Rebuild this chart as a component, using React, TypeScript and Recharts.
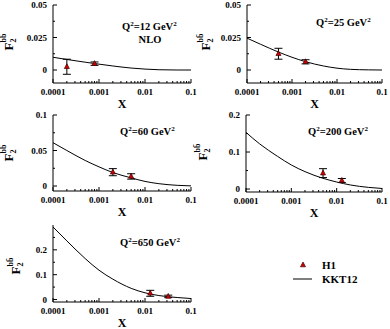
import React from 'react';
import { ComposedChart, Line, Scatter, XAxis, YAxis, ErrorBar } from 'recharts';

const xGrid = [0.0001, 0.0002, 0.0005, 0.001, 0.002, 0.005, 0.01, 0.02, 0.05, 0.1];

// KKT12 NLO curves, one per Q^2
const kktQ12 = [0.0098, 0.0081, 0.006, 0.0045, 0.0031, 0.0015, 0.0007, 0.0002, 0, 0];
const kktQ25 = [0.0245, 0.0198, 0.0138, 0.0098, 0.0064, 0.0031, 0.0014, 0.0005, 0.0001, 0];
const kktQ60 = [0.061, 0.05, 0.036, 0.027, 0.019, 0.0115, 0.0065, 0.0033, 0.001, 0.0002];
const kktQ200 = [0.153, 0.122, 0.088, 0.065, 0.047, 0.029, 0.019, 0.011, 0.0045, 0.0015];
const kktQ650 = [0.292, 0.236, 0.165, 0.118, 0.082, 0.045, 0.027, 0.016, 0.008, 0.004];

// H1 points
const h1Q12X = [0.0002, 0.0008];
const h1Q12F = [0.0025, 0.0049];
const h1Q12Err = [0.0058, 0.0013];
const h1Q25X = [0.0005, 0.002];
const h1Q25F = [0.0125, 0.0063];
const h1Q25Err = [0.0042, 0.0016];
const h1Q60X = [0.002, 0.005];
const h1Q60F = [0.0195, 0.0135];
const h1Q60Err = [0.005, 0.0038];
const h1Q200X = [0.005, 0.013];
const h1Q200F = [0.043, 0.023];
const h1Q200Err = [0.012, 0.0055];
const h1Q650X = [0.013, 0.032];
const h1Q650F = [0.025, 0.0125];
const h1Q650Err = [0.012, 0.005];

// axis ticks
const xMajor = [0.0001, 0.001, 0.01, 0.1];
const xMinor = [0.0002, 0.0003, 0.0004, 0.0005, 0.0006, 0.0007, 0.0008, 0.0009,
  0.002, 0.003, 0.004, 0.005, 0.006, 0.007, 0.008, 0.009,
  0.02, 0.03, 0.04, 0.05, 0.06, 0.07, 0.08, 0.09];
const yMajorSmall = [0, 0.025, 0.05];
const yMinorSmall = [0.0125, 0.0375];
const yMajor60 = [0, 0.05, 0.1];
const yMinor60 = [0.025, 0.075];
const yMajor200 = [0, 0.1, 0.2];
const yMinor200 = [0.05, 0.15];
const yMajor650 = [0, 0.1, 0.2];
const yMinor650 = [0.05, 0.15, 0.25];

const AX_W = 50;
const PAD = 4;
const PAD_R = 14;
const X_H = 28;
const FONT = '"Liberation Serif", "Times New Roman", serif';

const isMajor = (v: number, majors: number[]) => majors.some(m => Math.abs(m - v) < 1e-12);

const bottomTick = (majors: number[]) => (p: any) => {
  const v = p.payload.value;
  const big = isMajor(v, majors);
  return (
    <g>
      <line x1={p.x} x2={p.x} y1={p.y} y2={p.y - (big ? 4 : 2)} stroke="#000" />
      {big && (
        <text x={p.x} y={p.y + 12} textAnchor="middle" fontSize={9} fontWeight="bold" fill="#000">
          {String(v)}
        </text>
      )}
    </g>
  );
};

const topTick = (majors: number[]) => (p: any) => {
  const big = isMajor(p.payload.value, majors);
  return <line x1={p.x} x2={p.x} y1={p.y} y2={p.y + (big ? 4 : 2)} stroke="#000" />;
};

const leftTick = (majors: number[]) => (p: any) => {
  const v = p.payload.value;
  const big = isMajor(v, majors);
  return (
    <g>
      <line x1={p.x} x2={p.x + (big ? 4 : 2)} y1={p.y} y2={p.y} stroke="#000" />
      {big && (
        <text x={p.x - 6} y={p.y + 3} textAnchor="end" fontSize={9} fontWeight="bold" fill="#000">
          {String(v)}
        </text>
      )}
    </g>
  );
};

const rightTick = (majors: number[]) => (p: any) => {
  const big = isMajor(p.payload.value, majors);
  return <line x1={p.x} x2={p.x - (big ? 4 : 2)} y1={p.y} y2={p.y} stroke="#000" />;
};

const Triangle = (p: any) => {
  const { cx, cy } = p;
  if (cx == null || cy == null) return null;
  return (
    <polygon
      points={`${cx},${cy - 3} ${cx - 2.5},${cy + 1.8} ${cx + 2.5},${cy + 1.8}`}
      fill="#d40000"
      stroke="#3a0000"
      strokeWidth={0.7}
    />
  );
};

type PanelDef = {
  curve: number[];
  px: number[];
  pf: number[];
  perr: number[];
  yDomain: [number, number];
  yMajor: number[];
  yMinor: number[];
  box: { l: number; t: number; r: number; b: number };
};

const panels: PanelDef[] = [
  { curve: kktQ12, px: h1Q12X, pf: h1Q12F, perr: h1Q12Err, yDomain: [-0.01, 0.05], yMajor: yMajorSmall, yMinor: yMinorSmall, box: { l: 53, t: 5, r: 191, b: 83 } },
  { curve: kktQ25, px: h1Q25X, pf: h1Q25F, perr: h1Q25Err, yDomain: [-0.01, 0.05], yMajor: yMajorSmall, yMinor: yMinorSmall, box: { l: 247, t: 5, r: 382, b: 83 } },
  { curve: kktQ60, px: h1Q60X, pf: h1Q60F, perr: h1Q60Err, yDomain: [-0.007, 0.1], yMajor: yMajor60, yMinor: yMinor60, box: { l: 53, t: 115, r: 191, b: 191 } },
  { curve: kktQ200, px: h1Q200X, pf: h1Q200F, perr: h1Q200Err, yDomain: [-0.008, 0.2], yMajor: yMajor200, yMinor: yMinor200, box: { l: 246, t: 115, r: 382, b: 192 } },
  { curve: kktQ650, px: h1Q650X, pf: h1Q650F, perr: h1Q650Err, yDomain: [-0.01, 0.3], yMajor: yMajor650, yMinor: yMinor650, box: { l: 53, t: 225, r: 191, b: 302 } },
];

const Panel: React.FC<{ p: PanelDef }> = ({ p }) => {
  const { l, t, r, b } = p.box;
  const w = r - l + AX_W + PAD_R;
  const h = b - t + PAD + X_H;
  const curveData = xGrid.map((x, i) => ({ x, f: p.curve[i] }));
  const pointData = p.px.map((x, i) => ({ x, f: p.pf[i], err: p.perr[i] }));
  const xTicks = [...xMajor, ...xMinor];
  const yTicks = [...p.yMajor, ...p.yMinor];
  return (
    <div style={{ position: 'absolute', left: l - AX_W, top: t - PAD, width: w, height: h }}>
      <ComposedChart width={w} height={h} data={curveData} margin={{ top: PAD, right: PAD_R, bottom: 0, left: 0 }}>
        <XAxis
          xAxisId="b" dataKey="x" type="number" scale="log" domain={[0.0001, 0.1]} allowDataOverflow
          ticks={xTicks} interval={0} tickSize={0} tickMargin={0} tickLine={false}
          tick={bottomTick(xMajor)} height={X_H} axisLine={{ stroke: '#000' }}
          label={{ value: 'X', position: 'insideBottom', offset: 3, fontSize: 12, fontWeight: 'bold', fill: '#000' }}
        />
        <XAxis
          xAxisId="t" orientation="top" dataKey="x" type="number" scale="log" domain={[0.0001, 0.1]} allowDataOverflow
          ticks={xTicks} interval={0} tickSize={0} tickMargin={0} tickLine={false}
          tick={topTick(xMajor)} height={0} axisLine={{ stroke: '#000' }}
        />
        <YAxis
          yAxisId="l" dataKey="f" type="number" domain={p.yDomain} allowDataOverflow
          ticks={yTicks} interval={0} tickSize={0} tickMargin={0} tickLine={false}
          tick={leftTick(p.yMajor)} width={AX_W} axisLine={{ stroke: '#000' }}
        />
        <YAxis
          yAxisId="r" orientation="right" type="number" domain={p.yDomain} allowDataOverflow
          ticks={yTicks} interval={0} tickSize={0} tickMargin={0} tickLine={false}
          tick={rightTick(p.yMajor)} width={0} axisLine={{ stroke: '#000' }}
        />
        <Line xAxisId="b" yAxisId="l" dataKey="f" type="monotone" stroke="#000" strokeWidth={1} dot={false} isAnimationActive={false} />
        <Scatter xAxisId="b" yAxisId="l" data={pointData} dataKey="f" shape={Triangle} isAnimationActive={false}>
          <ErrorBar dataKey="err" direction="y" width={4} stroke="#000" strokeWidth={1} />
        </Scatter>
      </ComposedChart>
    </div>
  );
};

const YLabel: React.FC<{ x: number; y: number }> = ({ x, y }) => (
  <text transform={`translate(${x},${y}) rotate(-90)`} textAnchor="middle" fontWeight="bold" fill="#000">
    <tspan fontSize={13}>F</tspan>
    <tspan fontSize={8} dy={3}>2</tspan>
    <tspan fontSize={8} dx={-4} dy={-10}>b{'b\u0304'}</tspan>
  </text>
);

const Q2: React.FC<{ x: number; y: number; v: string }> = ({ x, y, v }) => (
  <text x={x} y={y} fontSize={10.5} fontWeight="bold" fill="#000">
    Q<tspan fontSize={7} dy={-4}>2</tspan>
    <tspan dy={4}>={v} GeV</tspan>
    <tspan fontSize={7} dy={-4}>2</tspan>
  </text>
);

export default function App() {
  return (
    <div style={{ position: 'absolute', left: 0, top: 0, width: 390, height: 329, overflow: 'hidden', background: '#fff', fontFamily: FONT }}>
      {panels.map((p, i) => (
        <Panel key={i} p={p} />
      ))}
      <svg width={390} height={329} style={{ position: 'absolute', left: 0, top: 0, pointerEvents: 'none' }}>
        <YLabel x={13} y={42} />
        <YLabel x={210} y={42} />
        <YLabel x={13} y={153} />
        <YLabel x={207} y={152} />
        <YLabel x={20} y={266} />
        <Q2 x={122} y={30} v="12" />
        <text x={150} y={43} fontSize={10.5} fontWeight="bold" textAnchor="middle" fill="#000">NLO</text>
        <Q2 x={316} y={26} v="25" />
        <Q2 x={120} y={135} v="60" />
        <Q2 x={308} y={135} v="200" />
        <Q2 x={120} y={246} v="650" />
        <polygon points="303,262 300.5,266.8 305.5,266.8" fill="#d40000" stroke="#3a0000" strokeWidth={0.7} />
        <text x={322} y={269} fontSize={11} fontWeight="bold" fill="#000">H1</text>
        <line x1={293} x2={312} y1={279} y2={279} stroke="#000" />
        <text x={322} y={283} fontSize={11} fontWeight="bold" fill="#000">KKT12</text>
      </svg>
    </div>
  );
}
